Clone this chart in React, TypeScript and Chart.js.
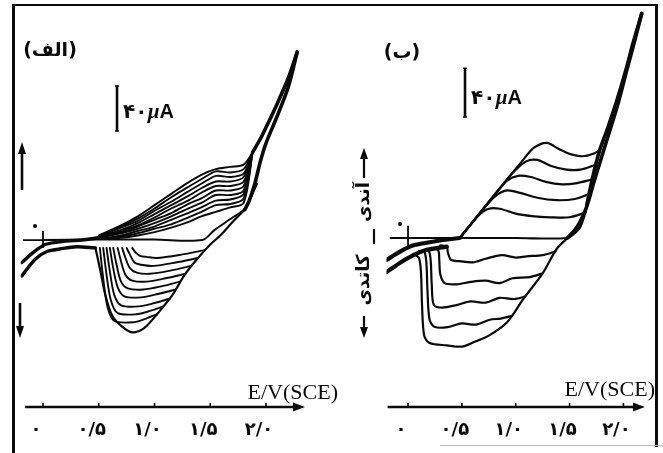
import React, { useEffect, useRef } from "react";
import { Chart, registerables } from "chart.js";

Chart.register(...registerables);

type Pt = [number, number];

const INK = "#0a0a0a";

// Potential axis (V vs SCE) ticks and their Persian labels
const POTENTIAL_TICKS = [0, 0.5, 1.0, 1.5, 2.0];
const POTENTIAL_TICK_LABELS = ["۰", "۰/۵", "۱/۰", "۱/۵", "۲/۰"];
const AXIS_TITLE = "E/V(SCE)";
const SCALE_BAR_UA = 40;
const PANEL_A_TITLE = "(الف)";
const PANEL_B_TITLE = "(ب)";
const ANODIC_LABEL = "آندی";
const CATHODIC_LABEL = "کاتدی";

// ---------- panel (الف): potential in V, current in µA ----------
const A_TAIL_FWD: Pt[] = [[-0.19, -20], [-0.1, -12], [0.02, -4], [0.2, -1], [0.35, 0], [0.5, 2]];
const A_TAIL_REV: Pt[] = [[0.47, -7], [0.3, -6], [0.15, -8], [0.04, -10], [-0.07, -17], [-0.19, -32]];
const A_FIRST_FWD: Pt[] = [[0, 0], [0.5, 0.5], [1.0, 0.5], [1.43, 0], [1.54, 9], [1.7, 20], [1.81, 28], [1.92, 50]];

// anodic waves of the successive cycles, sampled on a common potential grid
const A_FAN_E = [0.5, 0.7, 0.85, 1.0, 1.15, 1.3, 1.42, 1.55, 1.68, 1.8, 1.88];
const A_FAN_1 = [1, 2, 4, 7, 11, 16, 21, 25, 29, 33, 78];
const A_FAN_2 = [1, 3, 6, 10, 14, 20, 25, 31, 32, 37, 78];
const A_FAN_3 = [1, 4, 8, 12, 18, 24, 29, 35, 36, 41, 78];
const A_FAN_4 = [2, 6, 10, 15, 21, 28, 33, 40, 40, 44, 78];
const A_FAN_5 = [2, 7, 12, 18, 24, 32, 37, 44, 44, 48, 78];
const A_FAN_6 = [2, 8, 13, 20, 28, 35, 42, 48, 48, 52, 78];
const A_FAN_7 = [3, 9, 15, 23, 31, 39, 46, 52, 52, 56, 78];
const A_FAN_8 = [3, 11, 17, 26, 34, 43, 50, 57, 56, 59, 78];
const A_FAN_9 = [3, 12, 19, 28, 38, 47, 54, 61, 60, 63, 78];
const A_FAN_10 = [4, 13, 21, 31, 41, 51, 58, 63, 65, 67, 78];

const A_STEEP_FWD: Pt[] = [[1.88, 78], [1.95, 90], [2.0, 100], [2.1, 121], [2.2, 144], [2.28, 167]];
const A_STEEP_REV: Pt[] = [[2.28, 167], [2.2, 136], [2.1, 110], [2.0, 86], [1.95, 70], [1.9, 50], [1.85, 35], [1.81, 27]];
const A_REV_OUTER: Pt[] = [
  [1.81, 27], [1.7, 16], [1.59, 4], [1.5, -4], [1.39, -16], [1.27, -31], [1.16, -49], [1.03, -65],
  [0.91, -78], [0.8, -82], [0.71, -77], [0.62, -67], [0.56, -49], [0.51, -25], [0.47, -7],
];
// cathodic waves of the earlier cycles (inner to outer)
const A_CATH_1: Pt[] = [[1.45, -9], [1.24, -13], [1.02, -16], [0.93, -15], [0.87, -14], [0.83, -11], [0.8, -7]];
const A_CATH_2: Pt[] = [[1.39, -16], [1.19, -20], [0.99, -23], [0.88, -22], [0.82, -20], [0.78, -13], [0.75, -7]];
const A_CATH_3: Pt[] = [[1.33, -23], [1.15, -27], [0.96, -30], [0.84, -29], [0.78, -25], [0.74, -16], [0.71, -7]];
const A_CATH_4: Pt[] = [[1.28, -30], [1.1, -34], [0.93, -37], [0.8, -36], [0.74, -31], [0.7, -19], [0.67, -7]];
const A_CATH_5: Pt[] = [[1.23, -37], [1.07, -41], [0.9, -44], [0.76, -43], [0.7, -37], [0.66, -22], [0.63, -7]];
const A_CATH_6: Pt[] = [[1.19, -44], [1.03, -48], [0.88, -51], [0.73, -50], [0.67, -42], [0.63, -25], [0.6, -7]];
const A_CATH_7: Pt[] = [[1.14, -52], [1.0, -56], [0.86, -59], [0.7, -58], [0.64, -49], [0.6, -28], [0.57, -7]];
const A_CATH_8: Pt[] = [[1.08, -59], [0.96, -63], [0.84, -66], [0.67, -65], [0.61, -54], [0.57, -31], [0.54, -7]];
const A_CATH_9: Pt[] = [[1.02, -66], [0.92, -70], [0.82, -73], [0.64, -72], [0.58, -60], [0.54, -34], [0.51, -7]];

// ---------- panel (ب) ----------
const B_TAIL_FWD: Pt[] = [[-0.2, -18], [-0.07, -11], [0.05, -6], [0.3, -2], [0.48, 0]];
const B_TAIL_REV: Pt[] = [[0.36, -7], [0.16, -10], [0.05, -14], [-0.07, -20], [-0.2, -28]];
const B_FIRST_FWD: Pt[] = [[0, 0], [0.5, 0], [1.0, 0], [1.48, 0], [1.55, 4], [1.6, 9], [1.66, 25], [1.72, 50]];

const B_FAN_1: Pt[] = [[0.48, 0], [0.58, 11], [0.66, 19], [0.75, 24], [0.85, 24], [1.0, 20], [1.15, 18], [1.32, 17], [1.5, 17], [1.65, 21]];
const B_FAN_2: Pt[] = [[0.48, 0], [0.6, 13], [0.72, 26], [0.82, 35], [0.92, 39], [1.04, 37], [1.2, 33], [1.38, 31], [1.55, 32], [1.68, 36]];
const B_FAN_3: Pt[] = [[0.48, 0], [0.7, 24], [0.82, 37], [0.92, 47], [1.02, 51], [1.14, 50], [1.28, 46], [1.43, 44], [1.57, 45], [1.71, 48]];
const B_FAN_4: Pt[] = [[0.48, 0], [0.7, 24], [0.9, 46], [1.0, 56], [1.1, 63], [1.2, 64], [1.33, 59], [1.47, 56], [1.6, 56], [1.74, 60]];
const B_FAN_5: Pt[] = [[0.48, 0], [0.7, 24], [0.9, 46], [1.05, 62], [1.17, 74], [1.29, 78], [1.4, 73], [1.5, 69], [1.62, 67], [1.72, 69], [1.78, 72]];

const B_STEEP_FWD: Pt[] = [[1.66, 27], [1.72, 52], [1.78, 72], [1.85, 89], [1.94, 113], [2.03, 140], [2.09, 160], [2.17, 184]];
const B_STEEP_REV: Pt[] = [[2.17, 184], [2.1, 160], [2.03, 137], [1.95, 110], [1.87, 87], [1.8, 67], [1.73, 47], [1.66, 26], [1.57, 9], [1.48, 0]];
const B_REV_OUTER: Pt[] = [
  [1.48, 0], [1.38, -9], [1.25, -29], [1.07, -50], [0.92, -69], [0.75, -80], [0.62, -85], [0.5, -89],
  [0.36, -88], [0.2, -86], [0.15, -80], [0.13, -55], [0.12, -28], [0.1, -16], [0.05, -13],
];
const B_CATH_1: Pt[] = [[1.37, -11], [1.25, -14], [1.1, -15], [1.0, -16], [0.87, -14], [0.72, -17], [0.6, -20], [0.48, -19], [0.4, -18], [0.37, -12], [0.36, -7], [0.3, -6]];
const B_CATH_2: Pt[] = [[1.25, -29], [1.13, -32], [0.97, -33], [0.85, -37], [0.72, -35], [0.58, -36], [0.45, -38], [0.34, -37], [0.3, -30], [0.29, -18], [0.28, -10], [0.22, -8]];
const B_CATH_3: Pt[] = [[1.09, -48], [0.98, -50], [0.85, -49], [0.72, -53], [0.58, -52], [0.45, -55], [0.32, -57], [0.24, -55], [0.22, -38], [0.21, -18], [0.19, -10], [0.14, -10]];
const B_CATH_4: Pt[] = [[0.96, -64], [0.86, -66], [0.76, -67], [0.63, -71], [0.5, -70], [0.37, -73], [0.25, -73], [0.2, -67], [0.18, -42], [0.17, -20], [0.15, -11], [0.1, -11]];

const toXY = (pts: Pt[]) => pts.map(([x, y]) => ({ x, y }));
const zipXY = (xs: number[], ys: number[]) => xs.map((x, i) => ({ x, y: ys[i] }));

function trace(data: { x: number; y: number }[], width = 1.9) {
  return {
    data,
    borderColor: INK,
    borderWidth: width,
    pointRadius: 0,
    fill: false,
    tension: 0.3,
    borderCapStyle: "round" as const,
    borderJoinStyle: "round" as const,
  };
}

function arrowHead(ctx: CanvasRenderingContext2D, x: number, y: number, dir: "up" | "down" | "right", len = 11, half = 4) {
  ctx.beginPath();
  if (dir === "right") {
    ctx.moveTo(x, y); ctx.lineTo(x - len, y - half); ctx.lineTo(x - len, y + half);
  } else if (dir === "up") {
    ctx.moveTo(x, y); ctx.lineTo(x - half, y + len); ctx.lineTo(x + half, y + len);
  } else {
    ctx.moveTo(x, y); ctx.lineTo(x - half, y - len); ctx.lineTo(x + half, y - len);
  }
  ctx.closePath();
  ctx.fill();
}

// Axis, scale bar, zero cross and captions drawn from the chart's own scales
const cvDecor = {
  id: "cvDecor",
  afterDraw(chart: any, _args: any, o: any) {
    const ctx: CanvasRenderingContext2D = chart.ctx;
    const xs = chart.scales.x;
    const ys = chart.scales.y;
    const px = (v: number) => xs.getPixelForValue(v);
    const py = (i: number) => ys.getPixelForValue(i);
    const ay = chart.chartArea.bottom;
    ctx.save();
    ctx.strokeStyle = INK;
    ctx.fillStyle = INK;
    ctx.lineCap = "butt";

    // potential axis with arrow
    const x0 = px(o.axisFrom);
    const x1 = px(o.axisTo);
    ctx.lineWidth = 2.6;
    ctx.beginPath();
    ctx.moveTo(x0, ay);
    ctx.lineTo(x1 - 8, ay);
    ctx.stroke();
    arrowHead(ctx, x1, ay, "right", 12, 4.5);
    ctx.lineWidth = 1.6;
    POTENTIAL_TICKS.forEach((v) => {
      const x = px(v);
      ctx.beginPath();
      ctx.moveTo(x, ay);
      ctx.lineTo(x, ay - 4);
      ctx.stroke();
    });
    ctx.font = "bold 18px 'DejaVu Sans'";
    ctx.textAlign = "center";
    ctx.textBaseline = "middle";
    (ctx as any).letterSpacing = "4px";
    POTENTIAL_TICKS.forEach((v, i) => ctx.fillText(POTENTIAL_TICK_LABELS[i], px(v) + o.labelShift, ay + 23));
    (ctx as any).letterSpacing = "0px";

    ctx.font = "22px 'Liberation Serif'";
    ctx.textAlign = "right";
    ctx.textBaseline = "alphabetic";
    ctx.fillText(AXIS_TITLE, o.titleRight, o.titleBase);

    // panel title
    ctx.font = "bold 19px 'DejaVu Sans'";
    ctx.textAlign = "center";
    ctx.fillText(o.panelTitle, o.panelX, o.panelY);

    // current scale bar
    const bx = px(o.barE);
    const bBot = py(o.barI);
    const bTop = py(o.barI + SCALE_BAR_UA);
    ctx.lineWidth = 2.6;
    ctx.beginPath();
    ctx.moveTo(bx, bTop);
    ctx.lineTo(bx, bBot);
    ctx.stroke();
    ctx.lineWidth = 1.6;
    ctx.beginPath();
    ctx.moveTo(bx - 2, bTop); ctx.lineTo(bx + 2, bTop);
    ctx.moveTo(bx - 2, bBot); ctx.lineTo(bx + 2, bBot);
    ctx.stroke();
    const tb = bBot - 13;
    let tx = bx + 6;
    ctx.textAlign = "left";
    ctx.font = "bold 20px 'DejaVu Sans'";
    (ctx as any).letterSpacing = "4px";
    ctx.fillText("۴۰", tx, tb);
    tx += ctx.measureText("۴۰").width;
    (ctx as any).letterSpacing = "0px";
    ctx.font = "italic bold 21px 'Liberation Serif'";
    ctx.fillText("µ", tx, tb);
    tx += ctx.measureText("µ").width;
    ctx.font = "bold 20px 'Liberation Sans'";
    ctx.fillText("A", tx, tb);

    // zero cross with its small mark
    const cx = px(0);
    const cy = py(0);
    ctx.lineWidth = 1.8;
    ctx.beginPath();
    ctx.moveTo(px(o.crossE[0]), cy);
    ctx.lineTo(px(o.crossE[1]), cy);
    ctx.moveTo(cx, py(o.crossI[0]));
    ctx.lineTo(cx, py(o.crossI[1]));
    ctx.stroke();
    ctx.beginPath();
    ctx.arc(cx - 8, cy - 14, 2, 0, Math.PI * 2);
    ctx.fill();

    // current-direction marks on the left
    if (o.side === "arrows") {
      ctx.lineWidth = 2.6;
      ctx.beginPath();
      ctx.moveTo(22, 190); ctx.lineTo(22, 150);
      ctx.moveTo(20, 303); ctx.lineTo(20, 330);
      ctx.stroke();
      arrowHead(ctx, 22, 142, "up", 12, 4);
      arrowHead(ctx, 20, 338, "down", 12, 4);
    } else {
      const sx = 364;
      ctx.lineWidth = 2.2;
      ctx.beginPath();
      ctx.moveTo(sx, 158); ctx.lineTo(sx, 178);
      ctx.moveTo(sx, 316); ctx.lineTo(sx, 328);
      ctx.stroke();
      arrowHead(ctx, sx, 148, "up", 11, 4);
      arrowHead(ctx, sx, 338, "down", 11, 4);
      ctx.font = "bold 18px 'DejaVu Sans'";
      ctx.textAlign = "center";
      ctx.textBaseline = "middle";
      ctx.save();
      ctx.translate(sx, 202);
      ctx.rotate(-Math.PI / 2);
      ctx.fillText(ANODIC_LABEL, 0, 0);
      ctx.restore();
      ctx.save();
      ctx.translate(sx, 280);
      ctx.rotate(-Math.PI / 2);
      ctx.fillText(CATHODIC_LABEL, 0, 0);
      ctx.restore();
      ctx.lineWidth = 2.2;
      ctx.beginPath();
      ctx.moveTo(sx + 10, 229); ctx.lineTo(sx + 10, 244);
      ctx.stroke();
    }
    ctx.restore();
  },
};

function panelConfig(datasets: any[], x: any, y: any, padding: any, decor: any) {
  return {
    type: "line" as const,
    data: { datasets },
    options: {
      responsive: false,
      animation: false as const,
      devicePixelRatio: 1,
      layout: { padding },
      scales: {
        x: { type: "linear" as const, display: false, ...x },
        y: { type: "linear" as const, display: false, ...y },
      },
      plugins: { legend: { display: false }, tooltip: { enabled: false }, cvDecor: decor },
    },
    plugins: [cvDecor],
  };
}

export default function App() {
  const leftRef = useRef<HTMLCanvasElement>(null);
  const rightRef = useRef<HTMLCanvasElement>(null);

  useEffect(() => {
    const aFans = [A_FAN_1, A_FAN_2, A_FAN_3, A_FAN_4, A_FAN_5, A_FAN_6, A_FAN_7, A_FAN_8, A_FAN_9, A_FAN_10];
    const aCath = [A_CATH_1, A_CATH_2, A_CATH_3, A_CATH_4, A_CATH_5, A_CATH_6, A_CATH_7, A_CATH_8, A_CATH_9];
    const aSets = [
      trace(toXY(A_TAIL_FWD), 3.4),
      trace(toXY(A_TAIL_REV), 3.4),
      trace(toXY(A_FIRST_FWD), 2),
      ...aFans.map((f) => trace(zipXY(A_FAN_E, f), 1.9)),
      trace(toXY(A_STEEP_FWD), 3.6),
      trace(toXY(A_STEEP_REV), 3.6),
      trace(toXY(A_REV_OUTER), 2.2),
      ...aCath.map((c) => trace(toXY(c), 1.9)),
    ];
    const bFans = [B_FAN_1, B_FAN_2, B_FAN_3, B_FAN_4, B_FAN_5];
    const bCath = [B_CATH_1, B_CATH_2, B_CATH_3, B_CATH_4];
    const bSets = [
      trace(toXY(B_TAIL_FWD), 4.2),
      trace(toXY(B_TAIL_REV), 4.2),
      trace(toXY(B_FIRST_FWD), 2.2),
      ...bFans.map((f) => trace(toXY(f), 2.2)),
      trace(toXY(B_STEEP_FWD), 3.6),
      trace(toXY(B_STEEP_REV), 3.6),
      trace(toXY(B_REV_OUTER), 2.2),
      ...bCath.map((c) => trace(toXY(c), 2.2)),
    ];

    const left = new Chart(
      leftRef.current!,
      panelConfig(
        aSets,
        { min: -0.2, max: 2.35 },
        { min: -148.4, max: 200 },
        { left: 20.7, right: 358, top: 15, bottom: 46 },
        {
          axisFrom: -0.16, axisTo: 2.35, labelShift: -7, titleRight: 338, titleBase: 399,
          panelTitle: PANEL_A_TITLE, panelX: 50, panelY: 56,
          barE: 0.664, barI: 96.9, crossE: [-0.18, 0.11], crossI: [-7, 8], side: "arrows",
        }
      ) as any
    );
    const right = new Chart(
      rightRef.current!,
      panelConfig(
        bSets,
        { min: -0.2, max: 2.35 },
        { min: -138.5, max: 190 },
        { left: 386.5, right: 1.9, top: 6.2, bottom: 46 },
        {
          axisFrom: -0.19, axisTo: 2.2, labelShift: -7, titleRight: 655, titleBase: 396,
          panelTitle: PANEL_B_TITLE, panelX: 402, panelY: 58,
          barE: 0.529, barI: 99.2, crossE: [-0.17, 0.14], crossI: [-8, 10], side: "labels",
        }
      ) as any
    );
    return () => {
      left.destroy();
      right.destroy();
    };
  }, []);

  const layer: React.CSSProperties = { position: "absolute", left: 0, top: 0, width: 663, height: 453 };
  const bar = (l: number, t: number, w: number, h: number, c = INK): React.CSSProperties => ({
    position: "absolute", left: l, top: t, width: w, height: h, background: c,
  });

  return (
    <div style={{ position: "fixed", left: 0, top: 0, width: 663, height: 453, background: "#fff", overflow: "hidden" }}>
      <div style={bar(12, 4, 2.6, 449)} />
      <div style={bar(12, 4, 646, 2)} />
      <div style={bar(655, 4, 3, 443)} />
      <div style={bar(440, 445, 223, 1, "#bbb")} />
      <canvas ref={leftRef} width={663} height={453} style={layer} />
      <canvas ref={rightRef} width={663} height={453} style={layer} />
    </div>
  );
}
